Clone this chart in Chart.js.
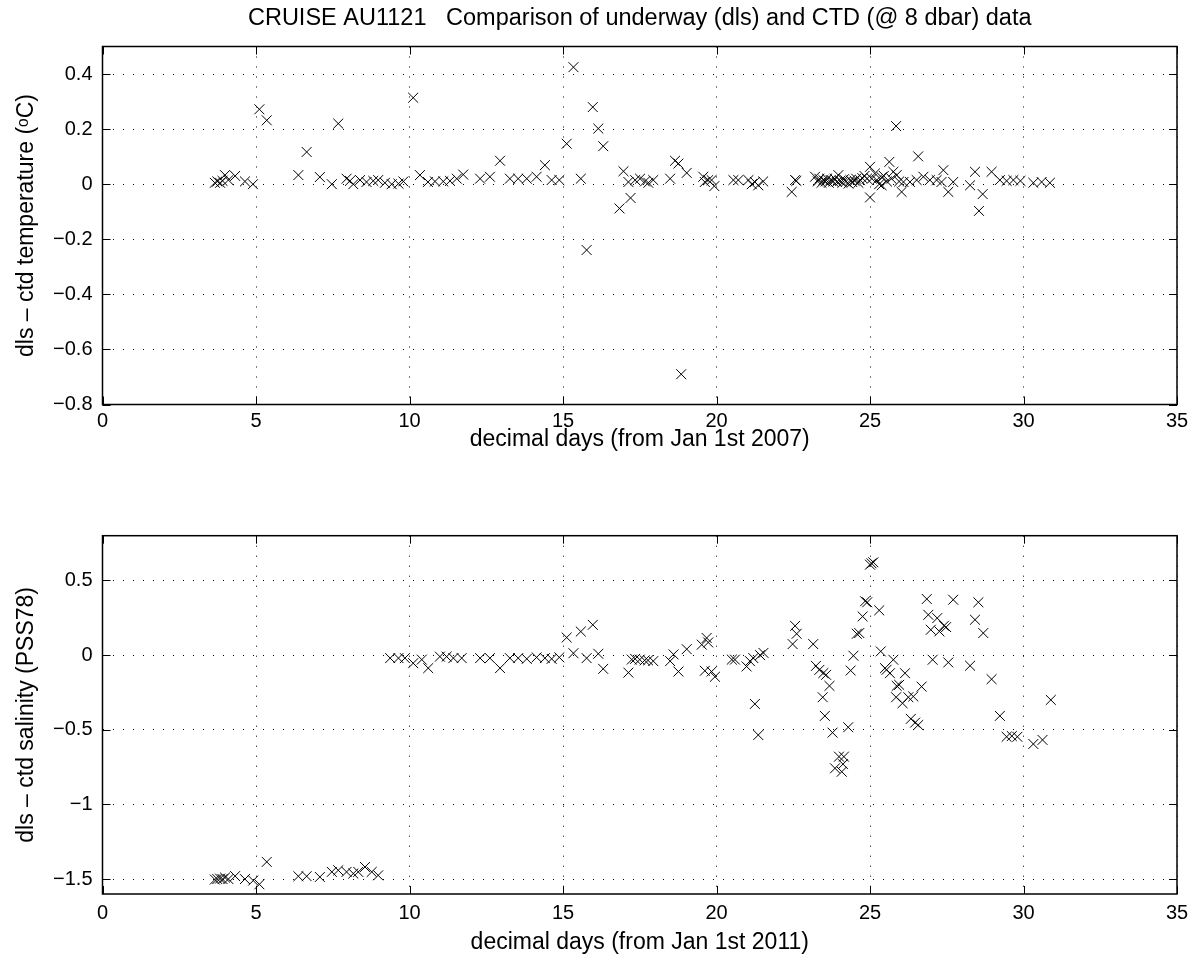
<!DOCTYPE html>
<html><head><meta charset="utf-8">
<script src="https://cdn.jsdelivr.net/npm/chart.js@4/dist/chart.umd.min.js"></script>
<style>
html,body{margin:0;padding:0;background:#fff;}
#wrap{position:relative;width:1200px;height:963px;}
canvas{position:absolute;left:0;}
</style></head><body>
<div id="wrap">
<canvas id="c1" width="1200" height="480" style="top:0"></canvas>
<canvas id="c2" width="1200" height="483" style="top:480px"></canvas>
</div>
<script>
const chartTitle = 'CRUISE AU1121   Comparison of underway (dls) and CTD (@ 8 dbar) data';
const tempXTitle = 'decimal days (from Jan 1st 2007)';
const salXTitle = 'decimal days (from Jan 1st 2011)';
const tempYTitle = 'dls \u2013 ctd temperature (\u1D52C)';
const salYTitle = 'dls \u2013 ctd salinity (PSS78)';

const xTicks = [0,5,10,15,20,25,30,35];
const xTickLabels = ['0','5','10','15','20','25','30','35'];
const tempTicks = [-0.8,-0.6,-0.4,-0.2,0,0.2,0.4];
const tempTickLabels = ['\u22120.8','\u22120.6','\u22120.4','\u22120.2','0','0.2','0.4'];
const salTicks = [-1.5,-1,-0.5,0,0.5];
const salTickLabels = ['\u22121.5','\u22121','\u22120.5','0','0.5'];

const tempDays = [3.66,3.74,3.83,3.91,3.99,4.1,4.32,4.64,4.9,5.11,5.35,6.38,6.65,7.08,7.47,7.68,7.95,8.06,8.17,8.39,8.6,8.82,8.98,9.2,9.42,9.64,9.8,
10.12,10.34,10.6,10.83,11.1,11.32,11.54,11.75,12.3,12.62,12.95,13.27,13.54,13.82,14.14,14.41,14.63,14.88,15.12,15.34,15.58,15.77,15.97,16.15,16.31,
16.84,16.97,17.13,17.2,17.35,17.51,17.67,17.78,17.94,18.49,18.65,18.76,18.85,19.03,19.57,19.62,19.73,19.84,19.93,20.55,20.71,21.04,21.15,21.25,21.36,21.52,
22.45,22.56,22.6,
23.21,23.3,23.35,23.42,23.48,23.55,23.6,23.66,23.72,23.8,23.85,23.92,23.97,24.03,24.1,24.15,24.22,24.3,24.36,24.42,24.5,24.55,24.62,24.68,24.75,24.82,24.9,
25.0,25.0,25.06,25.16,25.22,25.3,25.38,25.38,25.45,25.55,25.63,25.7,25.76,25.85,25.87,25.95,26.03,26.09,26.3,26.52,26.57,26.74,26.95,27.17,27.33,27.39,27.55,27.71,
28.26,28.42,28.55,28.67,28.96,29.23,29.45,29.67,29.9,30.32,30.59,30.86];
const tempDiff = [0.005,0.01,0.005,0.012,0.033,0.015,0.03,0.01,0.0,0.272,0.232,0.033,0.117,0.026,0.0,0.22,0.02,0.012,0.0,0.015,0.008,0.012,0.015,0.005,0.0,0.002,0.01,
0.314,0.033,0.008,0.01,0.01,0.012,0.02,0.035,0.02,0.027,0.085,0.02,0.02,0.02,0.027,0.069,0.015,0.015,0.147,0.425,0.02,-0.239,0.28,0.202,0.138,
-0.088,0.047,0.008,-0.05,0.015,0.02,0.01,0.005,0.015,0.02,0.085,0.075,-0.69,0.041,0.027,0.008,0.015,0.015,-0.007,0.015,0.015,0.015,0.0,0.008,-0.004,0.01,
-0.028,0.015,0.012,
0.027,0.01,0.02,0.005,0.015,0.01,0.02,0.005,0.015,0.01,0.02,0.008,0.033,0.012,0.005,0.018,0.01,0.002,0.015,0.008,0.012,0.02,0.005,0.015,0.022,0.03,0.02,
0.063,-0.048,0.02,0.039,0.015,0.0,-0.004,0.025,0.03,0.01,0.081,0.02,0.045,0.211,0.033,0.01,-0.028,0.008,0.008,0.015,0.101,0.027,0.015,0.015,0.008,0.051,-0.028,0.008,
-0.004,0.045,-0.097,-0.036,0.045,0.015,0.012,0.015,0.012,0.005,0.008,0.005];

const salDays = [3.66,3.74,3.83,3.91,3.99,4.1,4.32,4.64,4.91,5.11,5.35,6.38,6.65,7.08,7.47,7.68,7.95,8.17,8.33,8.55,8.77,8.98,
9.37,9.64,9.85,10.12,10.4,10.61,10.99,11.21,11.43,11.7,12.3,12.62,12.95,13.27,13.54,13.82,14.14,14.41,14.63,14.88,
15.12,15.34,15.58,15.77,15.97,16.15,16.31,17.13,17.24,17.35,17.5,17.66,17.77,17.94,18.49,18.6,18.76,19.03,19.52,19.68,19.73,19.62,19.84,19.95,
20.5,20.6,20.98,21.09,21.2,21.25,21.36,21.42,21.53,22.48,22.56,22.61,23.15,23.24,23.35,23.48,23.57,23.68,23.46,23.53,23.78,
23.99,24.15,23.86,24.08,24.12,24.29,24.37,24.46,24.57,24.65,24.76,24.84,24.91,25.0,25.05,25.11,25.3,25.35,25.49,25.54,25.65,25.76,25.87,25.95,25.85,
26.06,26.14,26.25,26.41,26.33,26.47,26.57,26.68,26.85,26.9,26.98,27.04,27.19,27.26,27.41,27.48,27.55,27.71,28.26,28.42,28.53,28.69,28.96,
29.23,29.45,29.62,29.8,30.32,30.62,30.89];
const salDiff = [-1.503,-1.5,-1.497,-1.5,-1.49,-1.5,-1.48,-1.5,-1.51,-1.535,-1.385,-1.481,-1.481,-1.486,-1.452,-1.441,-1.452,-1.463,-1.452,-1.419,-1.452,-1.475,
-0.02,-0.02,-0.02,-0.054,-0.03,-0.087,-0.01,-0.01,-0.02,-0.02,-0.02,-0.02,-0.087,-0.02,-0.02,-0.025,-0.015,-0.02,-0.025,-0.015,
0.118,0.013,0.158,-0.02,0.203,0.009,-0.092,-0.117,-0.03,-0.025,-0.03,-0.035,-0.035,-0.04,-0.04,0.005,-0.11,0.04,0.07,0.115,0.085,-0.105,-0.11,-0.145,
-0.03,-0.03,-0.076,-0.04,-0.02,-0.327,-0.535,0.0,0.015,0.074,0.196,0.143,0.074,-0.072,-0.099,-0.12,-0.132,-0.206,-0.282,-0.407,-0.519,
-0.68,-0.68,-0.758,-0.781,-0.73,-0.483,-0.103,-0.004,0.143,0.148,0.259,0.361,0.354,0.606,0.615,0.622,0.3,0.025,-0.087,-0.098,-0.121,-0.031,-0.206,-0.199,-0.282,
-0.322,-0.121,-0.282,-0.277,-0.427,-0.452,-0.468,-0.211,0.376,0.27,0.17,-0.031,0.248,0.159,0.197,0.188,-0.049,0.371,-0.071,0.237,0.354,0.148,-0.161,
-0.407,-0.547,-0.542,-0.547,-0.595,-0.568,-0.3];

const FONT = "'Liberation Sans', Arial, Helvetica, sans-serif";
const PLOT_LEFT = 102.5, PLOT_RIGHT_PAD = 23;
const TICK_SIZE = 20, LABEL_SIZE = 23, TITLE_SIZE = 23.5;

const framePlugin = {
  id: 'frame',
  afterDatasetsDraw(chart) {
    const {ctx, chartArea: a, scales: {x, y}} = chart;
    ctx.save();
    ctx.strokeStyle = '#000';
    ctx.lineWidth = 1;
    const L = 8;
    ctx.beginPath();
    x.ticks.forEach(t => {
      const px = Math.round(x.getPixelForValue(t.value)) + 0.5;
      ctx.moveTo(px, a.bottom); ctx.lineTo(px, a.bottom - L);
      ctx.moveTo(px, a.top); ctx.lineTo(px, a.top + L);
    });
    y.ticks.forEach(t => {
      const py = Math.round(y.getPixelForValue(t.value)) + 0.5;
      ctx.moveTo(a.left, py); ctx.lineTo(a.left + L, py);
      ctx.moveTo(a.right, py); ctx.lineTo(a.right - L, py);
    });
    ctx.stroke();
    ctx.lineWidth = 1.5;
    ctx.strokeRect(a.left, a.top, a.right - a.left, a.bottom - a.top);
    ctx.restore();
  }
};

function makeChart(id, days, vals, yTicks, yLabels, yMin, yMax, xTitle, yTitle, opts) {
  const pts = days.map((d, i) => ({x: d, y: vals[i]}));
  const H = opts.height;
  return new Chart(document.getElementById(id), {
    type: 'scatter',
    data: {datasets: [{
      data: pts, pointStyle: 'crossRot', pointRadius: 7, pointHoverRadius: 7,
      borderColor: '#000', backgroundColor: '#000', borderWidth: 1, showLine: false
    }]},
    plugins: [framePlugin],
    options: {
      responsive: false, animation: false, events: [],
      layout: {padding: {left: 0, right: PLOT_RIGHT_PAD, top: opts.padTop, bottom: 0}},
      plugins: {
        legend: {display: false}, tooltip: {enabled: false},
        title: {
          display: !!opts.title, text: opts.title || '', fullSize: false,
          color: '#000', font: {family: FONT, size: TITLE_SIZE, weight: 'normal', lineHeight: 1.2},
          padding: {top: 4.5, bottom: 13.8}
        }
      },
      scales: {
        x: {
          type: 'linear', min: 0, max: 35,
          afterBuildTicks: s => { s.ticks = xTicks.map(v => ({value: v})); },
          afterFit: s => { s.height = H - opts.plotBottom; },
          ticks: {color: '#000', font: {family: FONT, size: TICK_SIZE}, padding: opts.tickPad,
                  callback: (v, i) => xTickLabels[i], maxRotation: 0, autoSkip: false},
          grid: {color: '#000', lineWidth: 1, drawTicks: false},
          border: {display: false, dash: [1, 9]},
          title: {display: true, text: xTitle, color: '#000', font: {family: FONT, size: LABEL_SIZE, lineHeight: 1.2},
                  padding: {top: 0, bottom: opts.xTitlePad}}
        },
        y: {
          type: 'linear', min: yMin, max: yMax,
          afterBuildTicks: s => { s.ticks = yTicks.map(v => ({value: v})); },
          afterFit: s => { s.width = PLOT_LEFT; },
          ticks: {color: '#000', font: {family: FONT, size: TICK_SIZE}, padding: 10,
                  callback: (v, i) => yLabels[i], autoSkip: false},
          grid: {color: '#000', lineWidth: 1, drawTicks: false},
          border: {display: false, dash: [1, 9]},
          title: {display: true, text: yTitle, color: '#000', font: {family: FONT, size: LABEL_SIZE, lineHeight: 1.2},
                  padding: {top: 13, bottom: 0}}
        }
      }
    }
  });
}

makeChart('c1', tempDays, tempDiff, tempTicks, tempTickLabels, -0.8, 0.5, tempXTitle, tempYTitle,
  {height: 480, padTop: 0, plotBottom: 404.5, xTitlePad: 27, tickPad: 5, title: chartTitle});
makeChart('c2', salDays, salDiff, salTicks, salTickLabels, -1.6, 0.8, salXTitle, salYTitle,
  {height: 483, padTop: 55.7, plotBottom: 414, xTitlePad: 7, tickPad: 7, title: ''});
</script>
</body></html>
